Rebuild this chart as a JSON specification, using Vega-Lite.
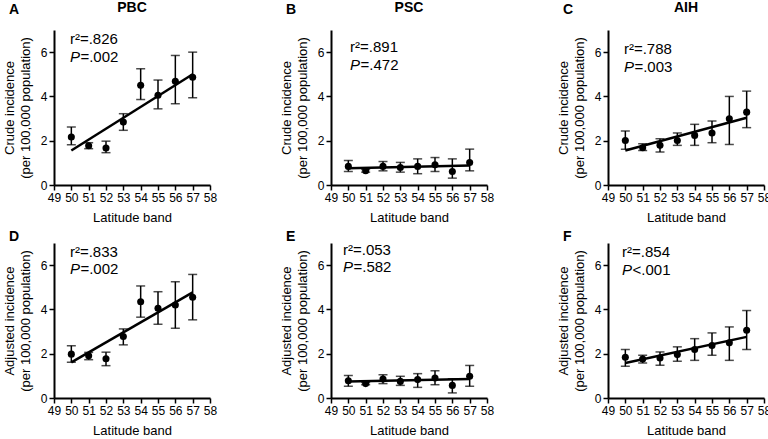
{
"$schema":"https://vega.github.io/schema/vega-lite/v6.json",
"padding":{"left":3,"top":1,"right":5,"bottom":3},
"config":{"font":"Liberation Sans","view":{"stroke":null},
"axis":{"grid":false,"domainColor":"black","domainWidth":2,"tickColor":"black","tickWidth":1.5,"tickSize":5,"labelColor":"black","labelFontSize":12,"labelPadding":2,"labelFlush":false,"labelOverlap":false,"titleColor":"black","titleFontSize":13,"titleFontWeight":"normal"},
"axisX":{"titlePadding":8},"axisY":{"titlePadding":8,"titleLineHeight":16}},
"datasets":{
"points":[
{"panel":"A","lat":50,"inc":2.17,"lo":1.82,"hi":2.62},{"panel":"A","lat":51,"inc":1.77,"lo":1.64,"hi":1.91},{"panel":"A","lat":52,"inc":1.67,"lo":1.46,"hi":1.98},{"panel":"A","lat":53,"inc":2.84,"lo":2.47,"hi":3.22},{"panel":"A","lat":54,"inc":4.5,"lo":3.86,"hi":5.25},{"panel":"A","lat":55,"inc":4.05,"lo":3.44,"hi":4.74},{"panel":"A","lat":56,"inc":4.68,"lo":3.67,"hi":5.85},{"panel":"A","lat":57,"inc":4.87,"lo":3.94,"hi":6.0},
{"panel":"B","lat":50,"inc":0.84,"lo":0.61,"hi":1.11},{"panel":"B","lat":51,"inc":0.64,"lo":0.58,"hi":0.7},{"panel":"B","lat":52,"inc":0.84,"lo":0.64,"hi":1.06},{"panel":"B","lat":53,"inc":0.79,"lo":0.58,"hi":1.02},{"panel":"B","lat":54,"inc":0.84,"lo":0.51,"hi":1.18},{"panel":"B","lat":55,"inc":0.91,"lo":0.61,"hi":1.24},{"panel":"B","lat":56,"inc":0.61,"lo":0.31,"hi":1.18},{"panel":"B","lat":57,"inc":1.02,"lo":0.64,"hi":1.62},
{"panel":"C","lat":50,"inc":2.01,"lo":1.61,"hi":2.44},{"panel":"C","lat":51,"inc":1.68,"lo":1.56,"hi":1.86},{"panel":"C","lat":52,"inc":1.79,"lo":1.49,"hi":2.09},{"panel":"C","lat":53,"inc":2.01,"lo":1.79,"hi":2.35},{"panel":"C","lat":54,"inc":2.24,"lo":1.79,"hi":2.74},{"panel":"C","lat":55,"inc":2.35,"lo":1.91,"hi":2.89},{"panel":"C","lat":56,"inc":2.99,"lo":1.83,"hi":4.0},{"panel":"C","lat":57,"inc":3.29,"lo":2.59,"hi":4.24},
{"panel":"D","lat":50,"inc":1.98,"lo":1.61,"hi":2.36},{"panel":"D","lat":51,"inc":1.91,"lo":1.73,"hi":2.06},{"panel":"D","lat":52,"inc":1.77,"lo":1.46,"hi":2.07},{"panel":"D","lat":53,"inc":2.78,"lo":2.4,"hi":3.12},{"panel":"D","lat":54,"inc":4.35,"lo":3.65,"hi":5.06},{"panel":"D","lat":55,"inc":4.05,"lo":3.33,"hi":4.8},{"panel":"D","lat":56,"inc":4.2,"lo":3.15,"hi":5.25},{"panel":"D","lat":57,"inc":4.55,"lo":3.53,"hi":5.58},
{"panel":"E","lat":50,"inc":0.78,"lo":0.53,"hi":1.02},{"panel":"E","lat":51,"inc":0.65,"lo":0.6,"hi":0.7},{"panel":"E","lat":52,"inc":0.86,"lo":0.65,"hi":1.05},{"panel":"E","lat":53,"inc":0.75,"lo":0.57,"hi":0.98},{"panel":"E","lat":54,"inc":0.83,"lo":0.48,"hi":1.1},{"panel":"E","lat":55,"inc":0.9,"lo":0.6,"hi":1.23},{"panel":"E","lat":56,"inc":0.57,"lo":0.23,"hi":0.87},{"panel":"E","lat":57,"inc":0.98,"lo":0.53,"hi":1.47},
{"panel":"F","lat":50,"inc":1.84,"lo":1.43,"hi":2.19},{"panel":"F","lat":51,"inc":1.76,"lo":1.58,"hi":1.93},{"panel":"F","lat":52,"inc":1.81,"lo":1.48,"hi":2.08},{"panel":"F","lat":53,"inc":1.96,"lo":1.66,"hi":2.31},{"panel":"F","lat":54,"inc":2.19,"lo":1.7,"hi":2.68},{"panel":"F","lat":55,"inc":2.37,"lo":1.93,"hi":2.94},{"panel":"F","lat":56,"inc":2.49,"lo":1.7,"hi":3.21},{"panel":"F","lat":57,"inc":3.06,"lo":2.19,"hi":3.95}
],
"fits":[
{"panel":"A","lat":50,"inc":1.56},{"panel":"A","lat":57,"inc":5.0},
{"panel":"B","lat":50,"inc":0.76},{"panel":"B","lat":57,"inc":0.88},
{"panel":"C","lat":50,"inc":1.56},{"panel":"C","lat":57,"inc":3.04},
{"panel":"D","lat":50,"inc":1.61},{"panel":"D","lat":57,"inc":4.77},
{"panel":"E","lat":50,"inc":0.75},{"panel":"E","lat":57,"inc":0.86},
{"panel":"F","lat":50,"inc":1.58},{"panel":"F","lat":57,"inc":2.76}
],
"stats":[
{"panel":"A","letter":"A","name":"PBC","r2":"r²=.826","p":"=.002"},
{"panel":"B","letter":"B","name":"PSC","r2":"r²=.891","p":"=.472"},
{"panel":"C","letter":"C","name":"AIH","r2":"r²=.788","p":"=.003"},
{"panel":"D","letter":"D","name":"PBC","r2":"r²=.833","p":"=.002"},
{"panel":"E","letter":"E","name":"PSC","r2":"r²=.053","p":"=.582"},
{"panel":"F","letter":"F","name":"AIH","r2":"r²=.854","p":"<.001"}
]},
"columns":3,
"bounds":"flush",
"spacing":{"row":58,"column":121},
"concat":[
{"width":156,"height":155,"layer":[
{"data":{"name":"points"},"transform":[{"filter":"datum.panel==='A'"}],"mark":{"type":"rule","color":"black","strokeWidth":1.5},"encoding":{"x":{"field":"lat","type":"quantitative","scale":{"domain":[49,58],"nice":false,"zero":false},"axis":{"values":[49,50,51,52,53,54,55,56,57,58],"tickCount":20,"format":"d","labelOverlap":false,"title":"Latitude band"}},"y":{"field":"lo","type":"quantitative","scale":{"domain":[0,7],"nice":false,"zero":false},"axis":{"values":[0,2,4,6],"tickCount":10,"format":"d","labelOverlap":false,"title":["Crude incidence","(per 100,000 population)"]}},"y2":{"field":"hi"}}},
{"data":{"name":"points"},"transform":[{"filter":"datum.panel==='A'"}],"mark":{"type":"tick","orient":"horizontal","color":"black","thickness":1.5,"size":9},"encoding":{"x":{"field":"lat","type":"quantitative"},"y":{"field":"lo","type":"quantitative"}}},
{"data":{"name":"points"},"transform":[{"filter":"datum.panel==='A'"}],"mark":{"type":"tick","orient":"horizontal","color":"black","thickness":1.5,"size":9},"encoding":{"x":{"field":"lat","type":"quantitative"},"y":{"field":"hi","type":"quantitative"}}},
{"data":{"name":"points"},"transform":[{"filter":"datum.panel==='A'"}],"mark":{"type":"point","filled":true,"color":"black","opacity":1,"size":50},"encoding":{"x":{"field":"lat","type":"quantitative"},"y":{"field":"inc","type":"quantitative"}}},
{"data":{"name":"fits"},"transform":[{"filter":"datum.panel==='A'"}],"mark":{"type":"line","color":"black","strokeWidth":2.5},"encoding":{"x":{"field":"lat","type":"quantitative"},"y":{"field":"inc","type":"quantitative"}}},
{"data":{"name":"stats"},"transform":[{"filter":"datum.panel==='A'"}],"mark":{"type":"text","align":"left","baseline":"alphabetic","fontSize":15,"color":"black"},"encoding":{"x":{"datum":49.92},"y":{"datum":6.37},"text":{"field":"r2"}}},
{"data":{"name":"stats"},"transform":[{"filter":"datum.panel==='A'"}],"mark":{"type":"text","align":"left","baseline":"alphabetic","fontSize":15,"fontStyle":"italic","color":"black"},"encoding":{"x":{"datum":49.92},"y":{"datum":5.56},"text":{"value":"P"}}},
{"data":{"name":"stats"},"transform":[{"filter":"datum.panel==='A'"}],"mark":{"type":"text","align":"left","baseline":"alphabetic","fontSize":15,"dx":10.5,"color":"black"},"encoding":{"x":{"datum":49.92},"y":{"datum":5.56},"text":{"field":"p"}}},
{"data":{"name":"stats"},"transform":[{"filter":"datum.panel==='A'"}],"mark":{"type":"text","align":"left","baseline":"alphabetic","fontSize":14,"fontWeight":"bold","color":"black"},"encoding":{"x":{"datum":46.4},"y":{"datum":7.72},"text":{"field":"letter"}}},
{"data":{"name":"stats"},"transform":[{"filter":"datum.panel==='A'"}],"mark":{"type":"text","align":"center","baseline":"alphabetic","fontSize":14,"fontWeight":"bold","color":"black"},"encoding":{"x":{"datum":53.5},"y":{"datum":7.81},"text":{"field":"name"}}}
]},
{"width":156,"height":155,"layer":[
{"data":{"name":"points"},"transform":[{"filter":"datum.panel==='B'"}],"mark":{"type":"rule","color":"black","strokeWidth":1.5},"encoding":{"x":{"field":"lat","type":"quantitative","scale":{"domain":[49,58],"nice":false,"zero":false},"axis":{"values":[49,50,51,52,53,54,55,56,57,58],"tickCount":20,"format":"d","labelOverlap":false,"title":"Latitude band"}},"y":{"field":"lo","type":"quantitative","scale":{"domain":[0,7],"nice":false,"zero":false},"axis":{"values":[0,2,4,6],"tickCount":10,"format":"d","labelOverlap":false,"title":["Crude incidence","(per 100,000 population)"]}},"y2":{"field":"hi"}}},
{"data":{"name":"points"},"transform":[{"filter":"datum.panel==='B'"}],"mark":{"type":"tick","orient":"horizontal","color":"black","thickness":1.5,"size":9},"encoding":{"x":{"field":"lat","type":"quantitative"},"y":{"field":"lo","type":"quantitative"}}},
{"data":{"name":"points"},"transform":[{"filter":"datum.panel==='B'"}],"mark":{"type":"tick","orient":"horizontal","color":"black","thickness":1.5,"size":9},"encoding":{"x":{"field":"lat","type":"quantitative"},"y":{"field":"hi","type":"quantitative"}}},
{"data":{"name":"points"},"transform":[{"filter":"datum.panel==='B'"}],"mark":{"type":"point","filled":true,"color":"black","opacity":1,"size":50},"encoding":{"x":{"field":"lat","type":"quantitative"},"y":{"field":"inc","type":"quantitative"}}},
{"data":{"name":"fits"},"transform":[{"filter":"datum.panel==='B'"}],"mark":{"type":"line","color":"black","strokeWidth":2.5},"encoding":{"x":{"field":"lat","type":"quantitative"},"y":{"field":"inc","type":"quantitative"}}},
{"data":{"name":"stats"},"transform":[{"filter":"datum.panel==='B'"}],"mark":{"type":"text","align":"left","baseline":"alphabetic","fontSize":15,"color":"black"},"encoding":{"x":{"datum":50.1},"y":{"datum":6.01},"text":{"field":"r2"}}},
{"data":{"name":"stats"},"transform":[{"filter":"datum.panel==='B'"}],"mark":{"type":"text","align":"left","baseline":"alphabetic","fontSize":15,"fontStyle":"italic","color":"black"},"encoding":{"x":{"datum":50.1},"y":{"datum":5.19},"text":{"value":"P"}}},
{"data":{"name":"stats"},"transform":[{"filter":"datum.panel==='B'"}],"mark":{"type":"text","align":"left","baseline":"alphabetic","fontSize":15,"dx":10.5,"color":"black"},"encoding":{"x":{"datum":50.1},"y":{"datum":5.19},"text":{"field":"p"}}},
{"data":{"name":"stats"},"transform":[{"filter":"datum.panel==='B'"}],"mark":{"type":"text","align":"left","baseline":"alphabetic","fontSize":14,"fontWeight":"bold","color":"black"},"encoding":{"x":{"datum":46.4},"y":{"datum":7.72},"text":{"field":"letter"}}},
{"data":{"name":"stats"},"transform":[{"filter":"datum.panel==='B'"}],"mark":{"type":"text","align":"center","baseline":"alphabetic","fontSize":14,"fontWeight":"bold","color":"black"},"encoding":{"x":{"datum":53.5},"y":{"datum":7.81},"text":{"field":"name"}}}
]},
{"width":156,"height":155,"layer":[
{"data":{"name":"points"},"transform":[{"filter":"datum.panel==='C'"}],"mark":{"type":"rule","color":"black","strokeWidth":1.5},"encoding":{"x":{"field":"lat","type":"quantitative","scale":{"domain":[49,58],"nice":false,"zero":false},"axis":{"values":[49,50,51,52,53,54,55,56,57,58],"tickCount":20,"format":"d","labelOverlap":false,"title":"Latitude band"}},"y":{"field":"lo","type":"quantitative","scale":{"domain":[0,7],"nice":false,"zero":false},"axis":{"values":[0,2,4,6],"tickCount":10,"format":"d","labelOverlap":false,"title":["Crude incidence","(per 100,000 population)"]}},"y2":{"field":"hi"}}},
{"data":{"name":"points"},"transform":[{"filter":"datum.panel==='C'"}],"mark":{"type":"tick","orient":"horizontal","color":"black","thickness":1.5,"size":9},"encoding":{"x":{"field":"lat","type":"quantitative"},"y":{"field":"lo","type":"quantitative"}}},
{"data":{"name":"points"},"transform":[{"filter":"datum.panel==='C'"}],"mark":{"type":"tick","orient":"horizontal","color":"black","thickness":1.5,"size":9},"encoding":{"x":{"field":"lat","type":"quantitative"},"y":{"field":"hi","type":"quantitative"}}},
{"data":{"name":"points"},"transform":[{"filter":"datum.panel==='C'"}],"mark":{"type":"point","filled":true,"color":"black","opacity":1,"size":50},"encoding":{"x":{"field":"lat","type":"quantitative"},"y":{"field":"inc","type":"quantitative"}}},
{"data":{"name":"fits"},"transform":[{"filter":"datum.panel==='C'"}],"mark":{"type":"line","color":"black","strokeWidth":2.5},"encoding":{"x":{"field":"lat","type":"quantitative"},"y":{"field":"inc","type":"quantitative"}}},
{"data":{"name":"stats"},"transform":[{"filter":"datum.panel==='C'"}],"mark":{"type":"text","align":"left","baseline":"alphabetic","fontSize":15,"color":"black"},"encoding":{"x":{"datum":49.92},"y":{"datum":5.92},"text":{"field":"r2"}}},
{"data":{"name":"stats"},"transform":[{"filter":"datum.panel==='C'"}],"mark":{"type":"text","align":"left","baseline":"alphabetic","fontSize":15,"fontStyle":"italic","color":"black"},"encoding":{"x":{"datum":49.92},"y":{"datum":5.1},"text":{"value":"P"}}},
{"data":{"name":"stats"},"transform":[{"filter":"datum.panel==='C'"}],"mark":{"type":"text","align":"left","baseline":"alphabetic","fontSize":15,"dx":10.5,"color":"black"},"encoding":{"x":{"datum":49.92},"y":{"datum":5.1},"text":{"field":"p"}}},
{"data":{"name":"stats"},"transform":[{"filter":"datum.panel==='C'"}],"mark":{"type":"text","align":"left","baseline":"alphabetic","fontSize":14,"fontWeight":"bold","color":"black"},"encoding":{"x":{"datum":46.4},"y":{"datum":7.72},"text":{"field":"letter"}}},
{"data":{"name":"stats"},"transform":[{"filter":"datum.panel==='C'"}],"mark":{"type":"text","align":"center","baseline":"alphabetic","fontSize":14,"fontWeight":"bold","color":"black"},"encoding":{"x":{"datum":53.5},"y":{"datum":7.81},"text":{"field":"name"}}}
]},
{"width":156,"height":155,"layer":[
{"data":{"name":"points"},"transform":[{"filter":"datum.panel==='D'"}],"mark":{"type":"rule","color":"black","strokeWidth":1.5},"encoding":{"x":{"field":"lat","type":"quantitative","scale":{"domain":[49,58],"nice":false,"zero":false},"axis":{"values":[49,50,51,52,53,54,55,56,57,58],"tickCount":20,"format":"d","labelOverlap":false,"title":"Latitude band"}},"y":{"field":"lo","type":"quantitative","scale":{"domain":[0,7],"nice":false,"zero":false},"axis":{"values":[0,2,4,6],"tickCount":10,"format":"d","labelOverlap":false,"title":["Adjusted incidence","(per 100,000 population)"]}},"y2":{"field":"hi"}}},
{"data":{"name":"points"},"transform":[{"filter":"datum.panel==='D'"}],"mark":{"type":"tick","orient":"horizontal","color":"black","thickness":1.5,"size":9},"encoding":{"x":{"field":"lat","type":"quantitative"},"y":{"field":"lo","type":"quantitative"}}},
{"data":{"name":"points"},"transform":[{"filter":"datum.panel==='D'"}],"mark":{"type":"tick","orient":"horizontal","color":"black","thickness":1.5,"size":9},"encoding":{"x":{"field":"lat","type":"quantitative"},"y":{"field":"hi","type":"quantitative"}}},
{"data":{"name":"points"},"transform":[{"filter":"datum.panel==='D'"}],"mark":{"type":"point","filled":true,"color":"black","opacity":1,"size":50},"encoding":{"x":{"field":"lat","type":"quantitative"},"y":{"field":"inc","type":"quantitative"}}},
{"data":{"name":"fits"},"transform":[{"filter":"datum.panel==='D'"}],"mark":{"type":"line","color":"black","strokeWidth":2.5},"encoding":{"x":{"field":"lat","type":"quantitative"},"y":{"field":"inc","type":"quantitative"}}},
{"data":{"name":"stats"},"transform":[{"filter":"datum.panel==='D'"}],"mark":{"type":"text","align":"left","baseline":"alphabetic","fontSize":15,"color":"black"},"encoding":{"x":{"datum":49.92},"y":{"datum":6.37},"text":{"field":"r2"}}},
{"data":{"name":"stats"},"transform":[{"filter":"datum.panel==='D'"}],"mark":{"type":"text","align":"left","baseline":"alphabetic","fontSize":15,"fontStyle":"italic","color":"black"},"encoding":{"x":{"datum":49.92},"y":{"datum":5.6},"text":{"value":"P"}}},
{"data":{"name":"stats"},"transform":[{"filter":"datum.panel==='D'"}],"mark":{"type":"text","align":"left","baseline":"alphabetic","fontSize":15,"dx":10.5,"color":"black"},"encoding":{"x":{"datum":49.92},"y":{"datum":5.6},"text":{"field":"p"}}},
{"data":{"name":"stats"},"transform":[{"filter":"datum.panel==='D'"}],"mark":{"type":"text","align":"left","baseline":"alphabetic","fontSize":14,"fontWeight":"bold","color":"black"},"encoding":{"x":{"datum":46.4},"y":{"datum":7.09},"text":{"field":"letter"}}}
]},
{"width":156,"height":155,"layer":[
{"data":{"name":"points"},"transform":[{"filter":"datum.panel==='E'"}],"mark":{"type":"rule","color":"black","strokeWidth":1.5},"encoding":{"x":{"field":"lat","type":"quantitative","scale":{"domain":[49,58],"nice":false,"zero":false},"axis":{"values":[49,50,51,52,53,54,55,56,57,58],"tickCount":20,"format":"d","labelOverlap":false,"title":"Latitude band"}},"y":{"field":"lo","type":"quantitative","scale":{"domain":[0,7],"nice":false,"zero":false},"axis":{"values":[0,2,4,6],"tickCount":10,"format":"d","labelOverlap":false,"title":["Adjusted incidence","(per 100,000 population)"]}},"y2":{"field":"hi"}}},
{"data":{"name":"points"},"transform":[{"filter":"datum.panel==='E'"}],"mark":{"type":"tick","orient":"horizontal","color":"black","thickness":1.5,"size":9},"encoding":{"x":{"field":"lat","type":"quantitative"},"y":{"field":"lo","type":"quantitative"}}},
{"data":{"name":"points"},"transform":[{"filter":"datum.panel==='E'"}],"mark":{"type":"tick","orient":"horizontal","color":"black","thickness":1.5,"size":9},"encoding":{"x":{"field":"lat","type":"quantitative"},"y":{"field":"hi","type":"quantitative"}}},
{"data":{"name":"points"},"transform":[{"filter":"datum.panel==='E'"}],"mark":{"type":"point","filled":true,"color":"black","opacity":1,"size":50},"encoding":{"x":{"field":"lat","type":"quantitative"},"y":{"field":"inc","type":"quantitative"}}},
{"data":{"name":"fits"},"transform":[{"filter":"datum.panel==='E'"}],"mark":{"type":"line","color":"black","strokeWidth":2.5},"encoding":{"x":{"field":"lat","type":"quantitative"},"y":{"field":"inc","type":"quantitative"}}},
{"data":{"name":"stats"},"transform":[{"filter":"datum.panel==='E'"}],"mark":{"type":"text","align":"left","baseline":"alphabetic","fontSize":15,"color":"black"},"encoding":{"x":{"datum":49.69},"y":{"datum":6.46},"text":{"field":"r2"}}},
{"data":{"name":"stats"},"transform":[{"filter":"datum.panel==='E'"}],"mark":{"type":"text","align":"left","baseline":"alphabetic","fontSize":15,"fontStyle":"italic","color":"black"},"encoding":{"x":{"datum":49.69},"y":{"datum":5.69},"text":{"value":"P"}}},
{"data":{"name":"stats"},"transform":[{"filter":"datum.panel==='E'"}],"mark":{"type":"text","align":"left","baseline":"alphabetic","fontSize":15,"dx":10.5,"color":"black"},"encoding":{"x":{"datum":49.69},"y":{"datum":5.69},"text":{"field":"p"}}},
{"data":{"name":"stats"},"transform":[{"filter":"datum.panel==='E'"}],"mark":{"type":"text","align":"left","baseline":"alphabetic","fontSize":14,"fontWeight":"bold","color":"black"},"encoding":{"x":{"datum":46.4},"y":{"datum":7.09},"text":{"field":"letter"}}}
]},
{"width":156,"height":155,"layer":[
{"data":{"name":"points"},"transform":[{"filter":"datum.panel==='F'"}],"mark":{"type":"rule","color":"black","strokeWidth":1.5},"encoding":{"x":{"field":"lat","type":"quantitative","scale":{"domain":[49,58],"nice":false,"zero":false},"axis":{"values":[49,50,51,52,53,54,55,56,57,58],"tickCount":20,"format":"d","labelOverlap":false,"title":"Latitude band"}},"y":{"field":"lo","type":"quantitative","scale":{"domain":[0,7],"nice":false,"zero":false},"axis":{"values":[0,2,4,6],"tickCount":10,"format":"d","labelOverlap":false,"title":["Adjusted incidence","(per 100,000 population)"]}},"y2":{"field":"hi"}}},
{"data":{"name":"points"},"transform":[{"filter":"datum.panel==='F'"}],"mark":{"type":"tick","orient":"horizontal","color":"black","thickness":1.5,"size":9},"encoding":{"x":{"field":"lat","type":"quantitative"},"y":{"field":"lo","type":"quantitative"}}},
{"data":{"name":"points"},"transform":[{"filter":"datum.panel==='F'"}],"mark":{"type":"tick","orient":"horizontal","color":"black","thickness":1.5,"size":9},"encoding":{"x":{"field":"lat","type":"quantitative"},"y":{"field":"hi","type":"quantitative"}}},
{"data":{"name":"points"},"transform":[{"filter":"datum.panel==='F'"}],"mark":{"type":"point","filled":true,"color":"black","opacity":1,"size":50},"encoding":{"x":{"field":"lat","type":"quantitative"},"y":{"field":"inc","type":"quantitative"}}},
{"data":{"name":"fits"},"transform":[{"filter":"datum.panel==='F'"}],"mark":{"type":"line","color":"black","strokeWidth":2.5},"encoding":{"x":{"field":"lat","type":"quantitative"},"y":{"field":"inc","type":"quantitative"}}},
{"data":{"name":"stats"},"transform":[{"filter":"datum.panel==='F'"}],"mark":{"type":"text","align":"left","baseline":"alphabetic","fontSize":15,"color":"black"},"encoding":{"x":{"datum":49.81},"y":{"datum":6.37},"text":{"field":"r2"}}},
{"data":{"name":"stats"},"transform":[{"filter":"datum.panel==='F'"}],"mark":{"type":"text","align":"left","baseline":"alphabetic","fontSize":15,"fontStyle":"italic","color":"black"},"encoding":{"x":{"datum":49.81},"y":{"datum":5.56},"text":{"value":"P"}}},
{"data":{"name":"stats"},"transform":[{"filter":"datum.panel==='F'"}],"mark":{"type":"text","align":"left","baseline":"alphabetic","fontSize":15,"dx":10.5,"color":"black"},"encoding":{"x":{"datum":49.81},"y":{"datum":5.56},"text":{"field":"p"}}},
{"data":{"name":"stats"},"transform":[{"filter":"datum.panel==='F'"}],"mark":{"type":"text","align":"left","baseline":"alphabetic","fontSize":14,"fontWeight":"bold","color":"black"},"encoding":{"x":{"datum":46.4},"y":{"datum":7.09},"text":{"field":"letter"}}}
]}
]
}
